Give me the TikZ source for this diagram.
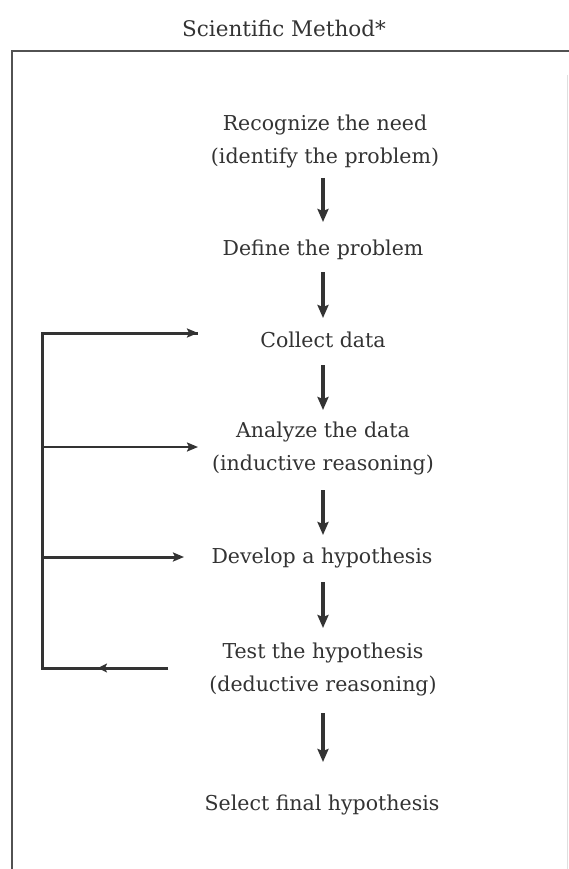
\documentclass[tikz,border=0pt]{standalone}
\usepackage{fontspec}
\setmainfont{DejaVu Serif}
\usetikzlibrary{arrows.meta}
\definecolor{ink}{HTML}{333333}
\definecolor{txt}{HTML}{333333}
\tikzset{
  label/.style={inner sep=0pt, align=center, text=txt, font=\fontsize{20.5}{33}\selectfont},
  titlelabel/.style={inner sep=0pt, text=txt, font=\fontsize{21.5}{26}\selectfont},
  down/.style={draw=ink, line width=3.2pt, -{Stealth[length=13pt,width=11pt,inset=2pt]}},
  frame/.style={draw=ink!85, line width=1.6pt},
  loopthick/.style={draw=ink, line width=3pt},
  loopthin/.style={draw=ink, line width=2pt},
  hhead/.style={-{Stealth[length=11pt,width=9pt,inset=2pt]}}
}
\begin{document}
\begin{tikzpicture}[x=1pt,y=-1pt]
\useasboundingbox (0,0) rectangle (569,869);
\fill[white] (0,0) rectangle (569,869);
% frame
\draw[frame] (569,51) -- (12,51) -- (12,869);
\draw[draw=gray!25, line width=1pt] (567,75) -- (567,869);
% title
\node[titlelabel] (title) at (284,28) {Scientific Method*};
% steps
\node[label] (n1) at (325,141.5) {Recognize the need\\(identify the problem)};
\node[label] (n2) at (323,250) {Define the problem};
\node[label] (n3) at (323,340) {Collect data};
\node[label] (n4) at (323,448) {Analyze the data\\(inductive reasoning)};
\node[label] (n5) at (322,558) {Develop a hypothesis};
\node[label] (n6) at (323,669.5) {Test the hypothesis\\(deductive reasoning)};
\node[label] (n7) at (322,805) {Select final hypothesis};
% vertical arrows (all on one vertical line)
\coordinate (ax) at (323,0);
\draw[down] ([yshift=-36.5pt]n1.center -| ax) -- ([yshift=28pt]n2.center -| ax);
\draw[down] ([yshift=-22pt]n2.center -| ax) -- ([yshift=22pt]n3.center -| ax);
\draw[down] ([yshift=-25pt]n3.center -| ax) -- ([yshift=38pt]n4.center -| ax);
\draw[down] ([yshift=-42pt]n4.center -| ax) -- ([yshift=23pt]n5.center -| ax);
\draw[down] ([yshift=-24pt]n5.center -| ax) -- ([yshift=41.5pt]n6.center -| ax);
\draw[down] ([yshift=-43.5pt]n6.center -| ax) -- ([yshift=43pt]n7.center -| ax);
% feedback loop
\coordinate (lT) at (42,333);
\coordinate (lA) at (42,447);
\coordinate (lD) at (42,557);
\coordinate (lB) at (42,668);
\coordinate (aC) at (198,333);
\coordinate (aA) at (198,447);
\coordinate (aD) at (184,557);
\coordinate (tS) at (168,668);
\coordinate (tM) at (98,668);
\draw[loopthick, line join=miter] (tS) -- (lB) -- (lT) -- (aC);
\draw[loopthick, hhead] (lT) -- (aC);
\draw[loopthin, hhead] (lA) -- (aA);
\draw[loopthick, hhead] (lD) -- (aD);
\draw[loopthick, -{Stealth[length=9pt,width=9pt,inset=2pt]}] (tS) -- (tM);
\end{tikzpicture}
\end{document}
